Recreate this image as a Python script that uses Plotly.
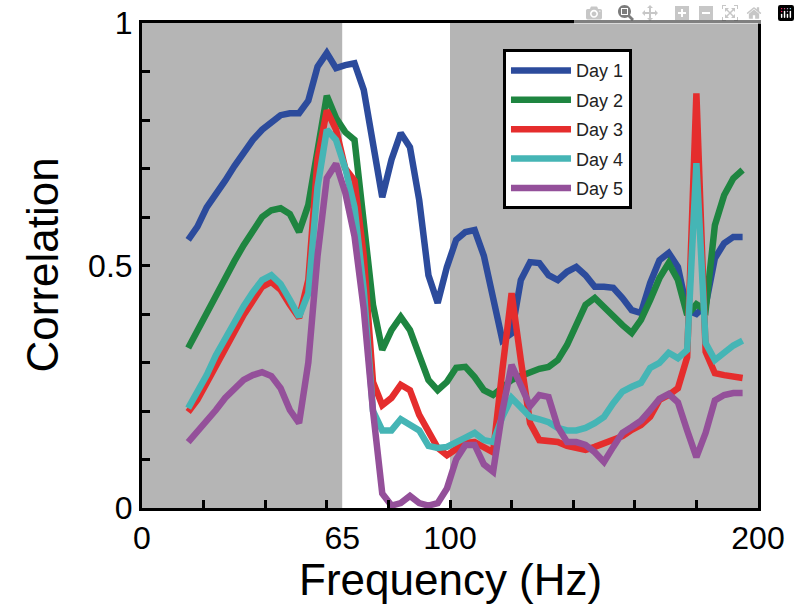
import plotly.graph_objects as go

freq = [15, 18, 21, 24, 27, 30, 33, 36, 39, 42, 45, 48, 51, 54, 57, 60, 63, 66, 69, 72,
        75, 78, 81, 84, 87, 90, 93, 96, 99, 102, 105, 108, 111, 114, 117, 120, 123, 126,
        129, 132, 135, 138, 141, 144, 147, 150, 153, 156, 159, 162, 165, 168, 171, 174,
        177, 180, 183, 186, 189, 192, 195]

day1 = [0.553, 0.58, 0.62, 0.645, 0.675, 0.705, 0.734, 0.759, 0.78, 0.796, 0.81, 0.814, 0.814,
        0.84, 0.91, 0.938, 0.907, 0.913, 0.917, 0.862, 0.75, 0.641, 0.718, 0.773, 0.744,
        0.635, 0.48, 0.423, 0.497, 0.553, 0.569, 0.573, 0.52, 0.435, 0.346, 0.36, 0.47,
        0.507, 0.505, 0.48, 0.47, 0.487, 0.497, 0.48, 0.456, 0.456, 0.454, 0.433, 0.408,
        0.402, 0.464, 0.511, 0.526, 0.497, 0.408, 0.40, 0.418, 0.515, 0.546, 0.559, 0.559]

day2 = [0.33, 0.367, 0.402, 0.439, 0.476, 0.509, 0.542, 0.573, 0.6, 0.614, 0.618, 0.606, 0.569,
        0.625, 0.74, 0.85, 0.804, 0.775, 0.759, 0.58, 0.419, 0.326, 0.367, 0.394, 0.367,
        0.315, 0.264, 0.243, 0.26, 0.289, 0.291, 0.27, 0.243, 0.233, 0.247, 0.264, 0.272,
        0.28, 0.287, 0.291, 0.305, 0.336, 0.381, 0.419, 0.433, 0.414, 0.394, 0.377, 0.361,
        0.388, 0.429, 0.474, 0.505, 0.47, 0.398, 0.42, 0.408, 0.583, 0.645, 0.68, 0.697]

day3 = [0.198, 0.223, 0.258, 0.291, 0.326, 0.363, 0.398, 0.429, 0.456, 0.466, 0.45, 0.419, 0.392,
        0.47, 0.72, 0.82, 0.78, 0.70, 0.675, 0.52, 0.26, 0.212, 0.227, 0.254, 0.243,
        0.192, 0.155, 0.124, 0.109, 0.12, 0.134, 0.136, 0.124, 0.115, 0.285, 0.443, 0.305,
        0.175, 0.14, 0.138, 0.136, 0.128, 0.124, 0.12, 0.126, 0.134, 0.14, 0.148, 0.161,
        0.171, 0.188, 0.223, 0.233, 0.247, 0.311, 0.855, 0.322, 0.278, 0.274, 0.272, 0.268]

day4 = [0.206, 0.237, 0.274, 0.315, 0.351, 0.384, 0.416, 0.445, 0.47, 0.48, 0.462, 0.429, 0.394,
        0.443, 0.662, 0.78, 0.759, 0.70, 0.62, 0.45, 0.2, 0.16, 0.16, 0.183, 0.172,
        0.16, 0.128, 0.124, 0.126, 0.134, 0.145, 0.155, 0.14, 0.136, 0.188, 0.227, 0.208,
        0.188, 0.183, 0.177, 0.165, 0.16, 0.16, 0.165, 0.175, 0.188, 0.216, 0.24, 0.25,
        0.258, 0.289, 0.299, 0.32, 0.309, 0.326, 0.711, 0.34, 0.305, 0.32, 0.335, 0.345]

day5 = [0.136, 0.157, 0.177, 0.202, 0.227, 0.247, 0.264, 0.274, 0.28, 0.272, 0.247, 0.202, 0.175,
        0.3, 0.52, 0.68, 0.71, 0.65, 0.56, 0.41, 0.2, 0.03, 0.005, 0.01, 0.025,
        0.01, 0.005, 0.01, 0.04, 0.1, 0.13, 0.13, 0.09, 0.075, 0.2, 0.295, 0.25,
        0.21, 0.233, 0.229, 0.167, 0.136, 0.136, 0.13, 0.115, 0.095, 0.126, 0.155, 0.167,
        0.18, 0.202, 0.225, 0.235, 0.218, 0.16, 0.105, 0.155, 0.222, 0.233, 0.237, 0.237]

series_names = ["Day 1", "Day 2", "Day 3", "Day 4", "Day 5"]
series_values = [day1, day2, day3, day4, day5]
series_colors = ["#2c4b9c", "#1e8540", "#e52d2d", "#45b5b5", "#94509a"]

band = [65, 100]
x_tick_vals = [0, 65, 100, 200]
x_minor_vals = [20, 40, 60, 80, 100, 120, 140, 160, 180]
y_tick_vals = [0, 0.1, 0.2, 0.3, 0.4, 0.5, 0.6, 0.7, 0.8, 0.9, 1]
y_tick_text = ["0", "", "", "", "", "0.5", "", "", "", "", "1"]

FONT = "Liberation Sans, Arial, sans-serif"

fig = go.Figure()
for i, (name, vals, col) in enumerate(zip(series_names, series_values, series_colors)):
    fig.add_trace(go.Scatter(
        x=freq, y=vals, mode="lines", name=name,
        line=dict(color=col, width=6.5),
        legendgroup=f"g{i}",
    ))

fig.add_shape(type="rect", xref="x", yref="paper", x0=band[0], x1=band[1], y0=0, y1=1,
              fillcolor="white", line=dict(width=0), layer="below")

fig.update_layout(
    width=800, height=613,
    margin=dict(l=142, r=42, t=23, b=105),
    paper_bgcolor="white",
    plot_bgcolor="#b5b5b5",
    font=dict(family=FONT, color="black"),
    showlegend=True,
    legend=dict(
        x=0.586, y=0.946, xanchor="left", yanchor="top",
        bgcolor="white", bordercolor="black", borderwidth=3,
        font=dict(size=18, family=FONT, color="#222"),
        tracegroupgap=3, itemwidth=60,
    ),
    xaxis=dict(
        range=[0, 200], tickvals=x_tick_vals, ticktext=[str(v) for v in x_tick_vals],
        ticks="", showgrid=False, zeroline=False, automargin=False,
        showline=True, linecolor="black", linewidth=3, mirror=True,
        tickfont=dict(size=32, family=FONT),
        minor=dict(tickvals=x_minor_vals, ticks="inside", ticklen=8, tickwidth=3,
                   tickcolor="black", showgrid=False),
    ),
    yaxis=dict(
        range=[0, 1], tickvals=y_tick_vals, ticktext=y_tick_text,
        ticks="inside", ticklen=8, tickwidth=3, tickcolor="black",
        showgrid=False, zeroline=False, automargin=False,
        showline=True, linecolor="black", linewidth=3, mirror=True,
        tickfont=dict(size=32, family=FONT),
    ),
    annotations=[
        dict(text="Frequency (Hz)", xref="paper", yref="paper", x=0.5, y=0,
             yshift=-45, xanchor="center", yanchor="top", showarrow=False,
             font=dict(size=44, family=FONT)),
        dict(text="Correlation", xref="paper", yref="paper", x=0, y=0.5,
             xshift=-100, xanchor="center", yanchor="middle", textangle=-90,
             showarrow=False, font=dict(size=44, family=FONT)),
    ],
)

# remove the browser's default 8px body margin so the figure sits at the page origin
fig.write_html("out.html", post_script="document.body.style.margin='0';")
